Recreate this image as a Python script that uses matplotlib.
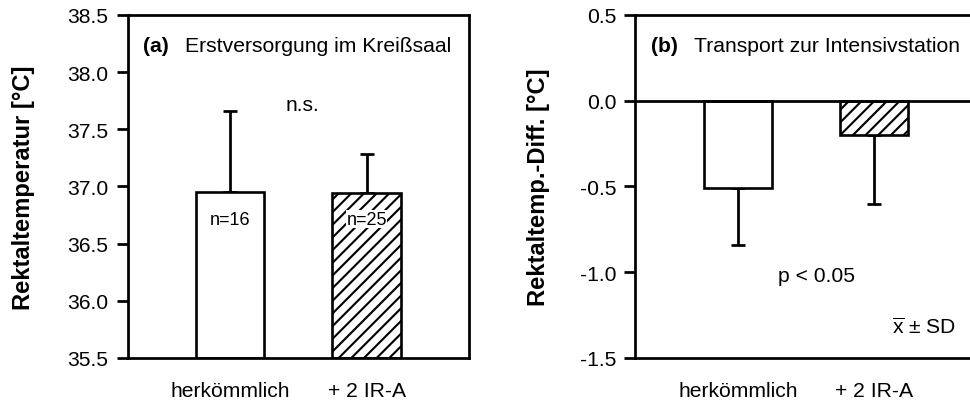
import matplotlib
matplotlib.use('Agg')
import matplotlib.pyplot as plt

plt.rcParams['font.family'] = ['Liberation Sans', 'DejaVu Sans']
plt.rcParams['mathtext.fontset'] = 'custom'
plt.rcParams['mathtext.rm'] = 'Liberation Sans'
plt.rcParams['hatch.linewidth'] = 2.0

# Daten
gruppen = ['herkömmlich', '+ 2 IR-A']
temp_mittel = [36.95, 36.94]
temp_sd = [0.71, 0.34]
n_werte = ['n=16', 'n=25']
diff_mittel = [-0.51, -0.20]
diff_sd = [0.33, 0.40]
muster = ['', '//']

DPI = 76
fig = plt.figure(figsize=(970 / DPI, 405 / DPI), dpi=DPI)
ax_a = fig.add_axes([0.1316, 0.1136, 0.3519, 0.8469])
ax_b = fig.add_axes([0.655, 0.1136, 0.3519, 0.8469])

FS = 20
LW_AX = 2.6
LW_BAR = 2.5
LW_ERR = 2.6

x = range(len(gruppen))


def stil(ax, ylim, ticks, ylabel, labelpad):
    ax.set_xlim(-0.75, 1.75)
    ax.set_ylim(*ylim)
    ax.set_yticks(ticks)
    ax.set_yticklabels([f'{t:.1f}' for t in ticks], fontsize=FS)
    ax.set_xticks(list(x))
    ax.set_xticklabels(gruppen, fontsize=FS)
    ax.tick_params(axis='x', length=0, pad=22)
    ax.tick_params(axis='y', direction='out', length=10, width=LW_AX, pad=8)
    for s in ax.spines.values():
        s.set_linewidth(LW_AX)
    ax.set_ylabel(ylabel, fontsize=22.5, fontweight='bold', labelpad=labelpad)


# (a) Erstversorgung
for i in x:
    ax_a.bar(i, temp_mittel[i] - 35.5, bottom=35.5, width=0.5, facecolor='white',
             edgecolor='black', linewidth=LW_BAR, hatch=muster[i], zorder=2)
    ax_a.errorbar(i, temp_mittel[i], yerr=[[0], [temp_sd[i]]], fmt='none',
                  ecolor='black', elinewidth=LW_ERR, capsize=6.2, capthick=LW_ERR, zorder=1)
    ax_a.text(i, 36.715, n_werte[i], ha='center', va='center', fontsize=17, zorder=3,
              bbox=dict(facecolor='white', edgecolor='none', pad=0.5) if muster[i] else None)

stil(ax_a, (35.5, 38.5), [35.5, 36.0, 36.5, 37.0, 37.5, 38.0, 38.5],
     'Rektaltemperatur [°C]', 31)
ax_a.text(0.045, 0.91, '(a)', transform=ax_a.transAxes, fontsize=FS,
          fontweight='bold', va='center')
ax_a.text(0.168, 0.91, 'Erstversorgung im Kreißsaal', transform=ax_a.transAxes,
          fontsize=FS, va='center')
ax_a.text(0.512, 0.738, 'n.s.', transform=ax_a.transAxes, fontsize=FS,
          ha='center', va='center')

# (b) Transport
ax_b.axhline(0, color='black', linewidth=LW_AX, zorder=3)
for i in x:
    ax_b.bar(i, diff_mittel[i], width=0.5, facecolor='white', edgecolor='black',
             linewidth=LW_BAR, hatch=muster[i], zorder=2)
    ax_b.errorbar(i, diff_mittel[i], yerr=[[diff_sd[i]], [0]], fmt='none',
                  ecolor='black', elinewidth=LW_ERR, capsize=6.2, capthick=LW_ERR, zorder=1)

stil(ax_b, (-1.5, 0.5), [-1.5, -1.0, -0.5, 0.0, 0.5],
     'Rektaltemp.-Diff. [°C]', 28)
ax_b.text(0.046, 0.91, '(b)', transform=ax_b.transAxes, fontsize=FS,
          fontweight='bold', va='center')
ax_b.text(0.172, 0.91, 'Transport zur Intensivstation', transform=ax_b.transAxes,
          fontsize=FS, va='center')
ax_b.text(0.531, -1.02, 'p < 0.05', transform=ax_b.get_yaxis_transform(),
          fontsize=FS, ha='center', va='center')
ax_b.text(0.751, -1.32, r'$\overline{\mathrm{x}}$ ± SD', transform=ax_b.get_yaxis_transform(),
          fontsize=FS, ha='left', va='center')

fig.savefig('out.png', dpi=DPI)
